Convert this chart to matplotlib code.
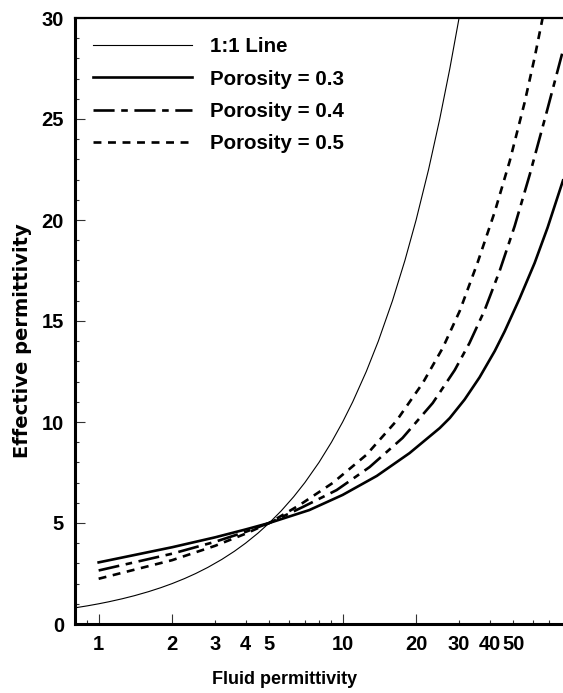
import numpy as np
import matplotlib
matplotlib.use('Agg')
import matplotlib.pyplot as plt

# values
fluid_11 = [0.8, 0.9, 1, 1.1, 1.25, 1.4, 1.6, 1.8, 2, 2.25, 2.5, 2.8, 3.2, 3.6, 4,
            4.5, 5, 5.6, 6.3, 7, 8, 9, 10, 11, 12.5, 14, 16, 18, 20, 22.5, 25, 27.5, 30]
eff_11 = [0.8, 0.9, 1, 1.1, 1.25, 1.4, 1.6, 1.8, 2, 2.25, 2.5, 2.8, 3.2, 3.6, 4,
          4.5, 5, 5.6, 6.3, 7, 8, 9, 10, 11, 12.5, 14, 16, 18, 20, 22.5, 25, 27.5, 30]

fluid_03 = [1, 2, 3, 4, 5, 7.3, 10, 13.8, 18.8, 25, 27.5, 31.6, 36.4, 42, 46.1, 53.1, 61.2, 69.2, 80]
eff_03 = [3.05, 3.80, 4.29, 4.68, 5.0, 5.64, 6.39, 7.33, 8.46, 9.7, 10.2, 11.11, 12.21, 13.51,
          14.48, 16.11, 17.87, 19.63, 21.96]

fluid_04 = [1, 2, 3, 4, 5, 6.86, 9.45, 12.9, 17.6, 23.4, 28.8, 33.1, 38.2, 44, 50.7, 58.4, 68.6, 80]
eff_04 = [2.65, 3.48, 4.07, 4.56, 5.0, 5.79, 6.63, 7.77, 9.21, 10.94, 12.57, 13.91, 15.54, 17.48,
          19.7, 22.23, 25.35, 28.4]

fluid_05 = [1, 2, 3, 4, 5, 6.66, 9.1, 12.5, 16.6, 21.3, 25.7, 30.2, 35.8, 42, 48.4, 55.7, 61.2, 66]
eff_05 = [2.24, 3.16, 3.87, 4.47, 5.0, 5.89, 6.98, 8.37, 10.05, 11.93, 13.66, 15.5, 17.92, 20.4,
          22.92, 25.82, 28.04, 30]

major_x = [1, 2, 10, 20]
minor_x = [0.9, 3, 4, 5, 6, 7, 8, 9, 30, 40, 50, 60, 70]
minor_x_labels = ['', '3', '4', '5', '', '', '', '', '30', '40', '50', '', '']

plt.rcParams['font.family'] = ['Liberation Sans', 'DejaVu Sans']
plt.rcParams['font.weight'] = 'bold'

fig = plt.figure(figsize=(5.63, 6.93), dpi=100)
ax = fig.add_axes([75/563, 1 - 624/693, 488/563, 606/693])

ax.plot(fluid_11, eff_11, color='black', lw=0.8, label='1:1 Line')
ax.plot(fluid_03, eff_03, color='black', lw=1.9, label='Porosity = 0.3')
ax.plot(fluid_04, eff_04, color='black', lw=1.9, dashes=(8, 2.5, 2.5, 2.5),
        label='Porosity = 0.4')
ax.plot(fluid_05, eff_05, color='black', lw=1.9, dashes=(3, 2.5),
        label='Porosity = 0.5')

ax.set_xscale('log')
ax.set_xlim(0.8, 80)
ax.set_ylim(0, 30)

ax.set_xticks(major_x, [str(v) for v in major_x])
ax.set_xticks(minor_x, minor_x_labels, minor=True)
ax.set_yticks(np.arange(0, 31, 5))
ax.set_yticks(np.arange(0, 31, 1), minor=True)

ax.tick_params(which='both', direction='in', labelsize=14.5, width=0.8,
               color='#333333', top=False, right=False)
ax.tick_params(which='major', length=7, pad=8)
ax.tick_params(which='minor', length=3, pad=8)

ax.spines['right'].set_visible(False)
ax.spines['left'].set_linewidth(2.2)
ax.spines['bottom'].set_linewidth(2.2)
ax.spines['top'].set_linewidth(1.6)

ax.set_xlabel('Fluid permittivity', fontsize=13, fontweight='bold', labelpad=13)
ax.xaxis.set_label_coords(0.43, -0.077)
ax.set_ylabel('Effective permittivity', fontsize=14, fontweight='bold',
              family='DejaVu Sans')
ax.yaxis.set_label_coords(-0.089, 0.467)

ax.legend(loc='upper left', bbox_to_anchor=(0.037, 0.968), frameon=False,
          prop={'size': 14.8, 'weight': 'bold'}, handlelength=4.8, handletextpad=0.9,
          borderpad=0, borderaxespad=0, labelspacing=0.64)

plt.savefig('out.png', dpi=100)
